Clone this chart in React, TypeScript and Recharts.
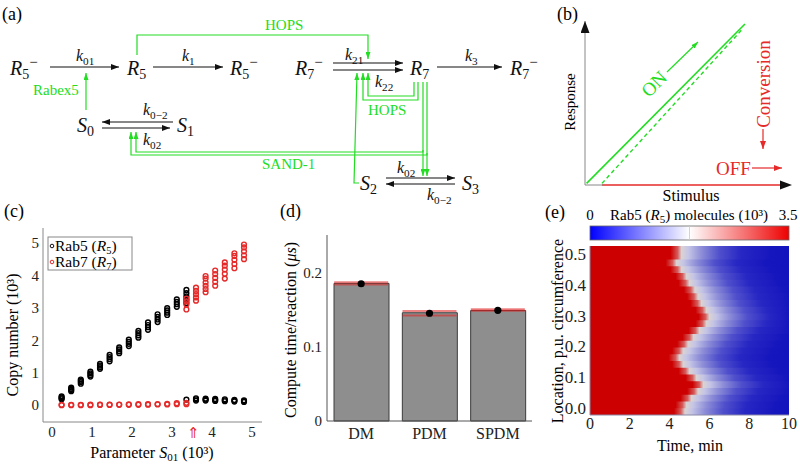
import React from 'react';
import { ScatterChart, Scatter, ComposedChart, Bar, LineChart, Line, XAxis, YAxis, ReferenceArea } from 'recharts';

// (b) sketch of the response curves (arbitrary units)
const onCurve = [{ x: 0.01, y: 0.01 }, { x: 1.0, y: 1.0 }];
const onDashed = [{ x: 0.106, y: 0.01 }, { x: 0.99, y: 0.975 }];
const offCurve = [{ x: 0.106, y: 0 }, { x: 1.23, y: 0 }];

// (c) copy numbers (10^3) of every run, per value of S01 (10^3)
const s01Values = [0.24, 0.48, 0.72, 0.96, 1.2, 1.44, 1.68, 1.92, 2.16, 2.4, 2.64, 2.88, 3.12, 3.36, 3.6, 3.84, 4.08, 4.32, 4.56, 4.8];
const rab5Runs = [
  [0.18, 0.21, 0.24, 0.27],
  [0.43, 0.47, 0.5, 0.54],
  [0.66, 0.71, 0.75, 0.79],
  [0.88, 0.93, 0.98, 1.03],
  [1.12, 1.17, 1.22, 1.27],
  [1.35, 1.42, 1.48, 1.55],
  [1.6, 1.66, 1.72, 1.78],
  [1.82, 1.89, 1.95, 2.02],
  [2.08, 2.15, 2.22, 2.29],
  [2.32, 2.4, 2.47, 2.55],
  [2.56, 2.64, 2.72, 2.8],
  [2.78, 2.85, 2.92, 2.99],
  [3.03, 3.11, 3.18, 3.26],
  [3.15, 3.25, 3.35, 3.45, 3.55, 0.17],
  [0.14, 0.18, 0.21],
  [0.14, 0.17, 0.2],
  [0.13, 0.16, 0.19],
  [0.12, 0.15, 0.18],
  [0.11, 0.14, 0.16],
  [0.1, 0.125, 0.15],
];
const rab7Runs = [
  [0.0, 0.01],
  [0.0, 0.01],
  [0.0, 0.01],
  [0.0, 0.015],
  [0.005, 0.02],
  [0.005, 0.02],
  [0.01, 0.02],
  [0.01, 0.025],
  [0.01, 0.03],
  [0.015, 0.03],
  [0.02, 0.035],
  [0.02, 0.04],
  [0.03, 0.06],
  [0.03, 0.07, 2.95, 3.1, 3.2, 3.28],
  [3.22, 3.32, 3.42, 3.52, 3.62],
  [3.48, 3.58, 3.68, 3.78, 3.9, 3.98],
  [3.68, 3.8, 3.92, 4.04, 4.15],
  [3.9, 4.05, 4.18, 4.3, 4.4],
  [4.22, 4.35, 4.48, 4.6, 4.68],
  [4.5, 4.62, 4.74, 4.86, 4.95],
];

// (d) compute time per reaction (us)
const methods = ['DM', 'PDM', 'SPDM'];
const timeMean = [0.185, 0.1455, 0.1485];
const timeMedian = [0.1845, 0.1448, 0.1488];
const timeHigh = [0.1865, 0.148, 0.1503];
const timeLow = [0.1835, 0.1418, 0.1483];

// (e) time (min) at which the Rab5 front passes, per row from the top of the membrane
const frontTime = [4.6, 4.6, 4.35, 4.6, 4.85, 5.0, 5.27, 5.43, 5.6, 5.85, 6.0, 5.85, 5.5, 5.2, 4.93, 4.68, 4.5, 4.68, 5.0, 5.35, 5.7, 5.43, 5.1, 4.85, 4.77];
const locMin = -0.023;
const locMax = 0.526;

const serif = 'Liberation Serif';
const tickFont = { fontSize: 14, fill: '#222', fontFamily: serif };
const GREEN = '#22dd22';
const RED = '#e52a2a';
const INK = '#111';

const toPoints = (runs: number[][]) => runs.flatMap((ys, i) => ys.map((y) => ({ x: s01Values[i], y })));
const rab5Points = toPoints(rab5Runs);
const rab7Points = toPoints(rab7Runs);

const timeData = methods.map((name, i) => ({
  name, mean: timeMean[i], median: timeMedian[i], high: timeHigh[i], low: timeLow[i],
}));

const rowH = (locMax - locMin) / frontTime.length;
const heatRows = frontTime.map((tb, i) => ({ tb, y2: locMax - i * rowH, y1: locMax - (i + 1) * rowH - rowH * 0.15 }));
const frontPoints = heatRows.map((r) => ({ t: r.tb, loc: (r.y1 + r.y2) / 2 }));

// colour profile behind the front, offsets in minutes relative to the front time
const heatStops: [number, string][] = [
  [-0.55, '#cc0000'], [-0.2, '#d65a5a'], [0, '#dad3d3'], [0.35, '#c4c4e6'],
  [1.0, '#8d8dd8'], [1.9, '#5050cc'], [3.0, '#2727c4'], [4.5, '#1616be'],
];

const ring = (color: string) => (p: any) => (
  <circle cx={p.cx} cy={p.cy} r={2.4} fill="none" stroke={color} strokeWidth={1.4} />
);
const rangeTick = (p: any) => (
  <line x1={p.cx - 27} x2={p.cx + 27} y1={p.cy} y2={p.cy} stroke="#e02020" strokeOpacity={0.55} strokeWidth={2} />
);
const blackDot = (p: any) => <circle cx={p.cx} cy={p.cy} r={3.6} fill="#000" />;

function Sym({ x, y, b, sub, sup, size = 20, color = INK }: any) {
  return (
    <text x={x} y={y} fontSize={size} fill={color}>
      <tspan fontStyle="italic">{b}</tspan>
      <tspan fontSize={size * 0.7} dy={size * 0.22}>{sub}</tspan>
      {sup ? <tspan fontSize={size * 0.75} dy={-size * 0.62}>{sup}</tspan> : null}
    </text>
  );
}

function Overlay() {
  const arrowK = { stroke: INK, strokeWidth: 1.2, markerEnd: 'url(#ak)' };
  const arrowG = { stroke: GREEN, strokeWidth: 1.2, fill: 'none', markerEnd: 'url(#ag)' };
  return (
    <svg width={800} height={464} fontFamily={serif} style={{ position: 'absolute', left: 0, top: 0, pointerEvents: 'none' }}>
      <defs>
        <marker id="ak" viewBox="0 0 10 10" refX="10" refY="5" markerWidth="8" markerHeight="6" markerUnits="userSpaceOnUse" orient="auto" preserveAspectRatio="none">
          <path d="M0,0L10,5L0,10z" fill={INK} />
        </marker>
        <marker id="ag" viewBox="0 0 10 10" refX="10" refY="5" markerWidth="7" markerHeight="5" markerUnits="userSpaceOnUse" orient="auto" preserveAspectRatio="none">
          <path d="M0,0L10,5L0,10z" fill={GREEN} />
        </marker>
        <marker id="ar" viewBox="0 0 10 10" refX="10" refY="5" markerWidth="8" markerHeight="6" markerUnits="userSpaceOnUse" orient="auto" preserveAspectRatio="none">
          <path d="M0,0L10,5L0,10z" fill={RED} />
        </marker>
        <marker id="abig" viewBox="0 0 10 10" refX="10" refY="5" markerWidth="12" markerHeight="9" markerUnits="userSpaceOnUse" orient="auto" preserveAspectRatio="none">
          <path d="M0,0L10,5L0,10z" fill={INK} />
        </marker>
        <linearGradient id="cbar" x1="0" y1="0" x2="1" y2="0">
          <stop offset="0" stopColor="#0000ff" />
          <stop offset="0.5" stopColor="#ffffff" />
          <stop offset="1" stopColor="#ee0000" />
        </linearGradient>
      </defs>

      {/* panel labels */}
      <text x={2} y={20} fontSize={18}>(a)</text>
      <text x={557} y={20} fontSize={18}>(b)</text>
      <text x={4} y={217} fontSize={18}>(c)</text>
      <text x={280} y={217} fontSize={18}>(d)</text>
      <text x={545} y={218} fontSize={18}>(e)</text>

      {/* (a) reaction scheme */}
      <Sym x={10} y={75} b="R" sub="5" sup="−" />
      <Sym x={127} y={75} b="R" sub="5" />
      <Sym x={230} y={75} b="R" sub="5" sup="−" />
      <Sym x={77} y={132} b="S" sub="0" />
      <Sym x={177} y={132} b="S" sub="1" />
      <Sym x={295} y={75} b="R" sub="7" sup="−" />
      <Sym x={410} y={75} b="R" sub="7" />
      <Sym x={510} y={75} b="R" sub="7" sup="−" />
      <Sym x={360} y={190} b="S" sub="2" />
      <Sym x={462} y={190} b="S" sub="3" />

      <Sym x={76} y={61} b="k" sub="01" size={16} />
      <Sym x={182} y={61} b="k" sub="1" size={16} />
      <Sym x={143} y={115} b="k" sub="0−2" size={16} />
      <Sym x={143} y={145} b="k" sub="02" size={16} />
      <Sym x={345} y={60} b="k" sub="21" size={16} />
      <Sym x={375} y={87} b="k" sub="22" size={16} />
      <Sym x={465} y={61} b="k" sub="3" size={16} />
      <Sym x={397} y={173} b="k" sub="02" size={16} />
      <Sym x={427} y={200} b="k" sub="0−2" size={16} />

      <line x1={50} y1={67} x2={119} y2={67} {...arrowK} />
      <line x1={153} y1={67} x2={223} y2={67} {...arrowK} />
      <line x1={173} y1={122} x2={102} y2={122} {...arrowK} />
      <line x1={102} y1={128} x2={170} y2={128} {...arrowK} />
      <line x1={333} y1={63} x2={403} y2={63} {...arrowK} />
      <line x1={333} y1={70} x2={403} y2={70} {...arrowK} />
      <line x1={437} y1={67} x2={502} y2={67} {...arrowK} />
      <line x1={386} y1={178} x2={455} y2={178} {...arrowK} />
      <line x1={455} y1={184} x2={386} y2={184} {...arrowK} />

      <path d="M137,55 V35 H368 V59" {...arrowG} />
      <line x1={86} y1={110} x2={86} y2={73} {...arrowG} />
      <path d="M414,82 V96 H368 V73" {...arrowG} />
      <path d="M418,82 V100 H363 V73" {...arrowG} />
      <path d="M359,183 H354 L357,73" {...arrowG} />
      <path d="M423,82 V152 H136 V132" {...arrowG} />
      <path d="M427,82 V155 H131 V132" {...arrowG} />
      <line x1={423} y1={150} x2={423} y2={176} {...arrowG} />
      <line x1={427} y1={153} x2={427} y2={176} {...arrowG} />

      <text x={265} y={30} fontSize={15} fill={GREEN}>HOPS</text>
      <text x={33} y={95} fontSize={15} fill={GREEN}>Rabex5</text>
      <text x={368} y={115} fontSize={15} fill={GREEN}>HOPS</text>
      <text x={262} y={169} fontSize={15} fill={GREEN}>SAND-1</text>

      {/* (b) axes and annotations */}
      <line x1={585} y1={185} x2={585} y2={21} stroke="#888" strokeWidth={1} markerEnd="url(#abig)" />
      <line x1={585} y1={185} x2={603} y2={185} stroke="#888" strokeWidth={1} />
      <path d="M792,185 L780,180.5 L780,189.5 z" fill={INK} />
      <text x={570} y={102} fontSize={15} textAnchor="middle" dominantBaseline="central" transform="rotate(-90 570 102)">Response</text>
      <text x={691} y={201} fontSize={16} textAnchor="middle">Stimulus</text>
      <text x={654} y={84} fontSize={19} fill={GREEN} textAnchor="middle" dominantBaseline="central" transform="rotate(-45 654 84)">ON</text>
      <line x1={667} y1={72} x2={698} y2={42} stroke={GREEN} strokeWidth={1.2} markerEnd="url(#ag)" />
      <text x={763} y={84} fontSize={19} fill={RED} textAnchor="middle" dominantBaseline="central" transform="rotate(-90 763 84)">Conversion</text>
      <line x1={763} y1={129} x2={763} y2={149} stroke={RED} strokeWidth={1.2} markerEnd="url(#ar)" />
      <text x={716} y={175} fontSize={19} fill={RED}>OFF</text>
      <line x1={752} y1={168} x2={782} y2={168} stroke={RED} strokeWidth={1.2} markerEnd="url(#ar)" />

      {/* (c) legend and titles */}
      <rect x={48} y={237} width={84} height={33} fill="#fff" stroke="#888" />
      <circle cx={52} cy={246} r={1.8} fill="none" stroke={INK} />
      <text x={55} y={251} fontSize={15.5}>Rab5 (<tspan fontStyle="italic">R</tspan><tspan fontSize={10.5} dy={3}>5</tspan><tspan dy={-3}>)</tspan></text>
      <circle cx={52} cy={262} r={1.8} fill="none" stroke={RED} />
      <text x={55} y={267} fontSize={15.5}>Rab7 (<tspan fontStyle="italic">R</tspan><tspan fontSize={10.5} dy={3}>7</tspan><tspan dy={-3}>)</tspan></text>
      <text x={12} y={335} fontSize={16} textAnchor="middle" dominantBaseline="central" transform="rotate(-90 12 335)">Copy number (10³)</text>
      <text x={152} y={458} fontSize={16} textAnchor="middle">Parameter <tspan fontStyle="italic">S</tspan><tspan fontSize={11} dy={3}>01</tspan><tspan dy={-3}> (10³)</tspan></text>
      <text x={193} y={438} fontSize={15} fill={RED} textAnchor="middle">⇑</text>

      {/* (d) title */}
      <text x={290} y={330} fontSize={16} textAnchor="middle" dominantBaseline="central" transform="rotate(-90 290 330)">Compute time/reaction (<tspan fontStyle="italic">μs</tspan>)</text>

      {/* (e) colour bar and titles */}
      <rect x={590} y={226} width={199} height={14} fill="url(#cbar)" stroke="#666" strokeWidth={0.8} />
      <line x1={689.5} y1={226} x2={689.5} y2={240} stroke="#c8c8c8" strokeWidth={0.8} />
      <text x={590} y={220} fontSize={15} textAnchor="middle">0</text>
      <text x={788} y={220} fontSize={15} textAnchor="middle">3.5</text>
      <text x={689} y={220} fontSize={15} textAnchor="middle">Rab5 (<tspan fontStyle="italic">R</tspan><tspan fontSize={11} dy={3}>5</tspan><tspan dy={-3}>) molecules (10³)</tspan></text>
      <text x={557} y={331} fontSize={16} textAnchor="middle" dominantBaseline="central" transform="rotate(-90 557 331)">Location, p.u. circumference</text>
      <text x={690} y={451} fontSize={16} textAnchor="middle">Time, min</text>
    </svg>
  );
}

export default function App() {
  return (
    <div style={{ position: 'absolute', left: 0, top: 0, width: 800, height: 464, background: '#fff', fontFamily: serif, overflow: 'hidden' }}>
      {/* (b) */}
      <div style={{ position: 'absolute', left: 570, top: 0 }}>
        <LineChart width={230} height={210} margin={{ top: 24, right: 8, bottom: 25, left: 15 }}>
          <XAxis type="number" dataKey="x" domain={[0, 1.294]} hide />
          <YAxis type="number" domain={[0, 1]} hide />
          <Line data={offCurve} dataKey="y" stroke={RED} strokeWidth={1.6} dot={false} isAnimationActive={false} />
          <Line data={onDashed} dataKey="y" stroke={GREEN} strokeWidth={1.4} strokeDasharray="4 3" dot={false} isAnimationActive={false} />
          <Line data={onCurve} dataKey="y" stroke={GREEN} strokeWidth={1.6} dot={false} isAnimationActive={false} />
        </LineChart>
      </div>

      {/* (c) */}
      <div style={{ position: 'absolute', left: 0, top: 220 }}>
        <ScatterChart width={270} height={244} margin={{ top: 8, right: 8, bottom: 0, left: 0 }}>
          <XAxis type="number" dataKey="x" domain={[-0.225, 5.25]} ticks={[0, 1, 2, 3, 4, 5]} height={42}
            tickSize={0} tickMargin={4} axisLine={{ stroke: '#888' }} tick={{ ...tickFont, fontSize: 15 }} allowDataOverflow />
          <XAxis xAxisId="top" orientation="top" type="number" domain={[-0.225, 5.25]} height={0}
            tick={false} tickLine={false} axisLine={{ stroke: '#888' }} />
          <YAxis type="number" dataKey="y" domain={[-0.52, 5.46]} ticks={[0, 1, 2, 3, 4, 5]} width={43}
            tickSize={0} tickMargin={4} axisLine={{ stroke: '#888' }} tick={{ ...tickFont, fontSize: 15 }} allowDataOverflow />
          <YAxis yAxisId="right" orientation="right" type="number" domain={[-0.52, 5.46]} width={0}
            tick={false} tickLine={false} axisLine={{ stroke: '#888' }} />
          <Scatter data={rab5Points} shape={ring('#000')} isAnimationActive={false} />
          <Scatter data={rab7Points} shape={ring(RED)} isAnimationActive={false} />
        </ScatterChart>
      </div>

      {/* (d) */}
      <div style={{ position: 'absolute', left: 270, top: 225 }}>
        <ComposedChart width={265} height={239} data={timeData} margin={{ top: 10, right: 3, bottom: 0, left: 0 }}>
          <XAxis dataKey="name" height={43} tickSize={0} tickMargin={7} axisLine={{ stroke: '#555' }}
            tick={{ ...tickFont, fontSize: 16 }} />
          <XAxis xAxisId="top" orientation="top" dataKey="name" height={0} tick={false} tickLine={false}
            axisLine={{ stroke: '#999' }} />
          <YAxis type="number" domain={[0, 0.25]} ticks={[0, 0.1, 0.2]} width={57} tickSize={0} tickMargin={5}
            axisLine={{ stroke: '#555' }} tick={{ ...tickFont, fontSize: 15 }} tickFormatter={(v: number) => (v === 0 ? '0' : String(v))} />
          <YAxis yAxisId="right" orientation="right" type="number" domain={[0, 0.25]} width={0} tick={false}
            tickLine={false} axisLine={{ stroke: '#999' }} />
          <Bar dataKey="mean" barSize={55} fill="#8e8e8e" stroke="#3c3c3c" strokeWidth={1} isAnimationActive={false} />
          <Scatter dataKey="high" shape={rangeTick} isAnimationActive={false} />
          <Scatter dataKey="low" shape={rangeTick} isAnimationActive={false} />
          <Scatter dataKey="median" shape={blackDot} isAnimationActive={false} />
        </ComposedChart>
      </div>

      {/* (e) */}
      <div style={{ position: 'absolute', left: 530, top: 240 }}>
        <ComposedChart width={270} height={224} margin={{ top: 6, right: 11, bottom: 0, left: 0 }}>
          <defs>
            {heatRows.map((r, i) => (
              <linearGradient key={i} id={`hm${i}`} x1="0" y1="0" x2="1" y2="0">
                <stop offset="0" stopColor="#cc0000" />
                {heatStops.map(([d, c], j) => (
                  <stop key={j} offset={Math.min(1, Math.max(0, (r.tb + d) / 10))} stopColor={c} />
                ))}
                <stop offset="1" stopColor="#1414be" />
              </linearGradient>
            ))}
          </defs>
          <XAxis type="number" dataKey="t" domain={[0, 10]} ticks={[0, 2, 4, 6, 8, 10]} height={49}
            tickSize={0} tickMargin={3} axisLine={{ stroke: '#8a8aa8' }} tick={{ ...tickFont, fontSize: 16 }} allowDataOverflow />
          <XAxis xAxisId="top" orientation="top" type="number" domain={[0, 10]} height={0} tick={false}
            tickLine={false} axisLine={{ stroke: '#8a8aa8' }} />
          <YAxis type="number" dataKey="loc" domain={[locMin, locMax]} ticks={[0, 0.1, 0.2, 0.3, 0.4, 0.5]} width={60}
            tickSize={0} tickMargin={4} axisLine={{ stroke: '#8a8aa8' }} tick={{ ...tickFont, fontSize: 17 }}
            tickFormatter={(v: number) => v.toFixed(1)} allowDataOverflow />
          <YAxis yAxisId="right" orientation="right" type="number" domain={[locMin, locMax]} width={0} tick={false}
            tickLine={false} axisLine={{ stroke: '#8a8aa8' }} />
          {heatRows.map((r, i) => (
            <ReferenceArea key={i} x1={0} x2={10} y1={Math.max(locMin, r.y1)} y2={r.y2} fill={`url(#hm${i})`}
              fillOpacity={1} strokeOpacity={0} ifOverflow="hidden" />
          ))}
          <Scatter data={frontPoints} shape={() => <g />} isAnimationActive={false} />
        </ComposedChart>
      </div>

      <Overlay />
    </div>
  );
}
